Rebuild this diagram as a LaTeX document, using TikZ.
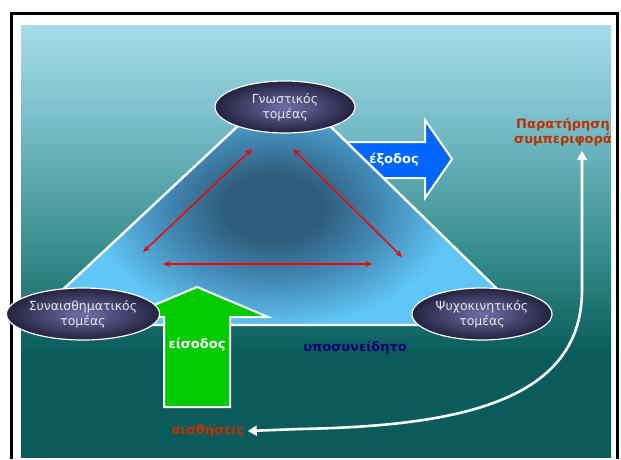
\documentclass[tikz,border=0pt]{standalone}
\usepackage{fontspec}
\setmainfont{DejaVu Sans}
\usepackage{tikz}
\usetikzlibrary{shapes,arrows.meta,positioning}

\definecolor{panellt}{RGB}{166,220,235}
\definecolor{panelcy}{RGB}{120,190,202}
\definecolor{panelmd}{RGB}{56,142,142}
\definecolor{paneldk}{RGB}{10,92,92}
\definecolor{trilight}{RGB}{96,198,245}
\definecolor{trimid}{RGB}{66,136,180}
\definecolor{tridark}{RGB}{46,92,122}
\definecolor{ovalin}{RGB}{112,110,170}
\definecolor{ovalout}{RGB}{36,34,62}
\definecolor{outblue}{RGB}{0,102,255}
\definecolor{ingreen}{RGB}{0,204,0}
\definecolor{rustred}{RGB}{190,50,0}
\definecolor{navytext}{RGB}{0,0,110}

\pgfdeclareverticalshading{panelshade}{100bp}{color(0bp)=(paneldk); color(37bp)=(paneldk); color(49bp)=(panelmd); color(64bp)=(panelcy); color(75bp)=(panellt); color(100bp)=(panellt)}
\pgfdeclareradialshading{tripool}{\pgfpoint{0bp}{0bp}}{color(0bp)=(tridark); color(4bp)=(tridark); color(9bp)=(trimid); color(15bp)=(trilight); color(50bp)=(trilight)}

\begin{document}
\begin{tikzpicture}[x=1pt, y=-1pt,
    domainoval/.style={ellipse, draw=white, line width=1.2pt, inner color=ovalin, outer color=ovalout,
        minimum width=140pt, minimum height=52pt, inner sep=0pt, align=center,
        text=white!90!black, font=\fontsize{12.5}{15}\selectfont},
    boldtext/.style={font=\bfseries\fontsize{13}{15}\selectfont, align=center},
    bigarrow/.style={draw=white, line width=2pt, line join=miter},
    redarrow/.style={{Stealth[length=7pt,width=6pt]}-{Stealth[length=7pt,width=6pt]}, red, line width=1.5pt},
    feedback/.style={{Triangle[length=9pt,width=10pt]}-{Triangle[length=9pt,width=10pt]}, white, line width=2.6pt}]

    \useasboundingbox (0,0) rectangle (621,459);

    % frame and panel
    \draw[black, line width=2.2pt] (11.5,459) -- (11.5,13.5) -- (617.5,13.5) -- (617.5,459);
    \shade[shading=panelshade] (21,25) rectangle (611,457);

    % output arrow, behind the triangle
    \draw[bigarrow, fill=outblue] (330,142) -- (425,142) -- (425,120) -- (452,159)
        -- (425,198) -- (425,178) -- (330,178) -- cycle;
    \node[boldtext, text=white] (exit) at (394,160) {έξοδος};

    % triangle
    \fill[trilight] (285,82) -- (25,325) -- (534,325) -- cycle;
    \begin{scope}
        \clip (285,82) -- (25,325) -- (534,325) -- cycle;
        \shade[shading=tripool] (273,208) ellipse (300 and 200);
    \end{scope}
    \draw[white, line width=2.4pt, line join=round] (285,82) -- (25,325) -- (534,325) -- cycle;

    % links between domains
    \coordinate (lt) at (143,252);
    \coordinate (tl) at (252,149);
    \coordinate (tr) at (293,149);
    \coordinate (rt) at (402,257);
    \coordinate (bl) at (163,264);
    \coordinate (br) at (372,264);
    \draw[redarrow] (lt) -- (tl);
    \draw[redarrow] (tr) -- (rt);
    \draw[redarrow] (bl) -- (br);

    % input arrow
    \draw[bigarrow, fill=ingreen] (164,407) -- (164,317) -- (126,317) -- (197,287)
        -- (268,317) -- (230,317) -- (230,407) -- cycle;
    \node[boldtext, text=white] (entry) at (197,345) {είσοδος};

    % domains
    \node[domainoval] (cognitive) at (285,107) {Γνωστικός\\τομέας};
    \node[domainoval] (affective) at (83,314) {Συναισθηματικός\\τομέας};
    \node[domainoval] (motor) at (482,314) {Ψυχοκινητικός\\τομέας};

    \node[boldtext, text=navytext] (subcon) at (355,348) {υποσυνείδητο};
    \node[boldtext, text=rustred] (observe) at (563,132) {Παρατήρηση\\συμπεριφορά};
    \node[boldtext, text=rustred] (senses) at (208,431) {αισθήσεις};

    % feedback loop
    \coordinate (obsin) at (582,151);
    \draw[feedback] (obsin) -- (582,290) .. controls (582,405) and (450,426) .. (300,429)
        -- (senses.east);

\end{tikzpicture}
\end{document}
